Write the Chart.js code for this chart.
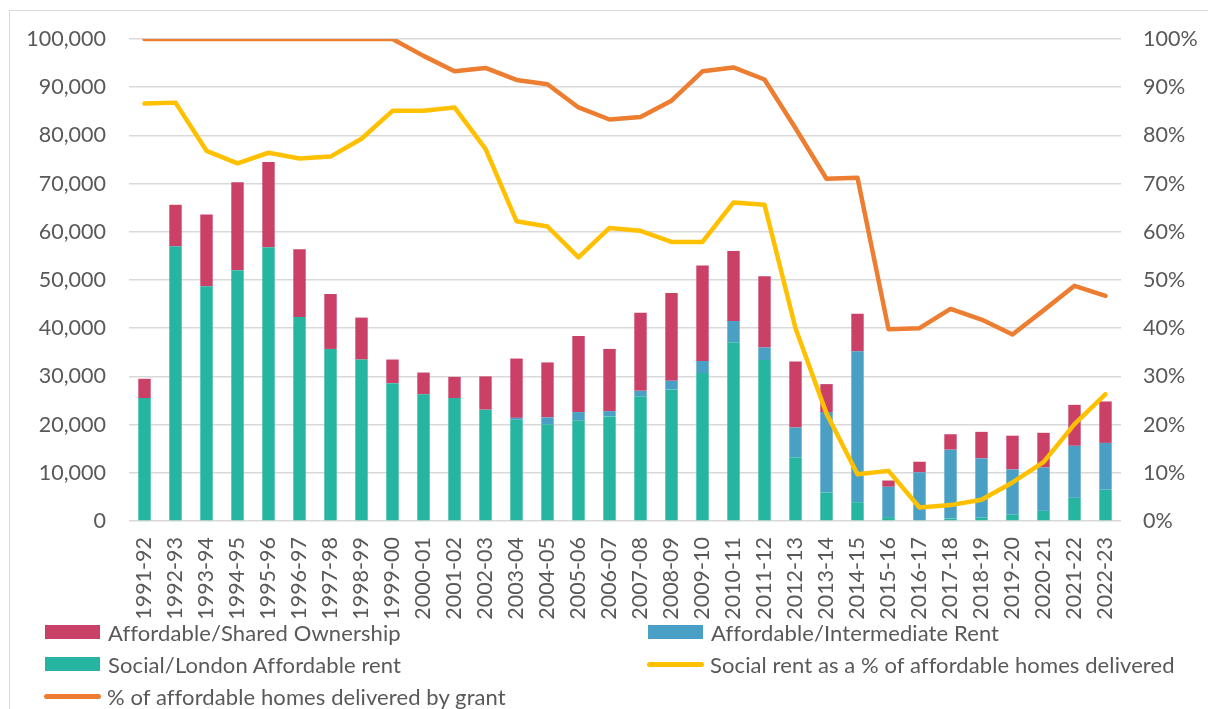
<!DOCTYPE html>
<html>
<head>
<meta charset="utf-8">
<script src="https://cdn.jsdelivr.net/npm/chart.js@4"></script>
<style>
    html, body { margin: 0; padding: 0; background: #fff; overflow: hidden; }
    body { width: 1208px; height: 709px; position: relative; font-family: Lato, "Open Sans", sans-serif; }
    .frame { position: absolute; left: 9px; top: 10px; width: 1300px; height: 800px; border: 1px solid #d9d9d9; box-sizing: border-box; }
    #wrap { position: absolute; left: 0; top: 0; width: 1208px; height: 620px; }
    .legend { position: absolute; left: 0; top: 0; width: 1208px; height: 709px; pointer-events: none; }
    .item { position: absolute; display: flex; align-items: center; font-size: 22px; letter-spacing: 0.1px; color: #595959; white-space: nowrap; }
    .box { width: 55px; height: 14px; margin-right: 8px; }
    .ln { width: 57px; height: 5px; border-radius: 3px; margin-right: 6px; }
</style>
</head>
<body>
<div class="frame"></div>
<div id="wrap"><canvas id="chart"></canvas></div>
<div class="legend" id="legend"></div>
<script>
const years = ['1991-92', '1992-93', '1993-94', '1994-95', '1995-96', '1996-97', '1997-98', '1998-99',
    '1999-00', '2000-01', '2001-02', '2002-03', '2003-04', '2004-05', '2005-06', '2006-07',
    '2007-08', '2008-09', '2009-10', '2010-11', '2011-12', '2012-13', '2013-14', '2014-15',
    '2015-16', '2016-17', '2017-18', '2018-19', '2019-20', '2020-21', '2021-22', '2022-23'];

// homes delivered
const socialRent = [25500, 57000, 48700, 52000, 56800, 42300, 35700, 33500, 28600, 26300, 25500, 23100,
    21000, 20000, 20900, 21700, 25900, 27300, 30700, 37100, 33400, 13200, 5900, 3900,
    800, 200, 500, 700, 1300, 2100, 4800, 6500];
const intermediateRent = [0, 0, 0, 0, 0, 0, 0, 0, 0, 0, 0, 0,
    400, 1500, 1700, 1100, 1100, 1800, 2500, 4400, 2600, 6200, 16700, 31300,
    6300, 9900, 14300, 12300, 9400, 9000, 10800, 9700];
const sharedOwnership = [4000, 8600, 14900, 18300, 17700, 14100, 11400, 8700, 4900, 4500, 4400, 6900,
    12300, 11400, 15800, 12900, 16200, 18200, 19800, 14500, 14800, 13700, 5800, 7800,
    1300, 2200, 3200, 5500, 7000, 7200, 8500, 8600];

// percentages (right axis)
const grantPct = [100, 100, 100, 100, 100, 100, 100, 100, 100, 96.5, 93.3, 94.0,
    91.5, 90.6, 85.8, 83.3, 83.8, 87.2, 93.3, 94.1, 91.6, 81.5, 71.0, 71.2,
    39.8, 40.0, 44.0, 41.8, 38.7, 43.7, 48.8, 46.7];
const socialPct = [86.6, 86.8, 76.8, 74.2, 76.4, 75.2, 75.6, 79.3, 85.1, 85.1, 85.8, 77.2,
    62.2, 61.1, 54.7, 60.8, 60.2, 57.9, 57.9, 66.1, 65.6, 40.0, 22.3, 9.7,
    10.4, 2.8, 3.3, 4.4, 8.0, 12.2, 20.1, 26.3];

const leftTicks = [0, 10000, 20000, 30000, 40000, 50000, 60000, 70000, 80000, 90000, 100000];

const COL = {
    shared: '#CB4067',
    inter: '#4AA0C4',
    social: '#26B5A0',
    socialLine: '#FFC000',
    grant: '#ED7D31',
    text: '#595959',
    grid: '#d9d9d9'
};

const legendItems = [
    { label: 'Affordable/Shared Ownership', color: COL.shared, type: 'box', x: 45, y: 632 },
    { label: 'Affordable/Intermediate Rent', color: COL.inter, type: 'box', x: 648, y: 632 },
    { label: 'Social/London Affordable rent', color: COL.social, type: 'box', x: 45, y: 664 },
    { label: 'Social rent as a % of affordable homes delivered', color: COL.socialLine, type: 'line', x: 647, y: 664 },
    { label: '% of affordable homes delivered by grant', color: COL.grant, type: 'line', x: 44, y: 696 }
];

function buildLegend() {
    const el = document.getElementById('legend');
    legendItems.forEach(it => {
        const d = document.createElement('div');
        d.className = 'item';
        d.style.left = it.x + 'px';
        d.style.top = (it.y - 14) + 'px';
        d.style.height = '28px';
        d.innerHTML = `<span class="${it.type === 'box' ? 'box' : 'ln'}" style="background:${it.color}"></span><span>${it.label}</span>`;
        el.appendChild(d);
    });
}

function initChart() {
    const ctx = document.getElementById('chart').getContext('2d');
    const font = { family: 'Lato, "Open Sans", sans-serif', size: 21.5 };

    new Chart(ctx, {
        type: 'bar',
        data: {
            labels: years,
            datasets: [
                { type: 'line', label: '% of affordable homes delivered by grant', data: grantPct, yAxisID: 'y1',
                  borderColor: COL.grant, borderWidth: 4.5, pointRadius: 0, tension: 0,
                  borderJoinStyle: 'round', borderCapStyle: 'round', order: 0 },
                { type: 'line', label: 'Social rent as a % of affordable homes delivered', data: socialPct, yAxisID: 'y1',
                  borderColor: COL.socialLine, borderWidth: 4.5, pointRadius: 0, tension: 0,
                  borderJoinStyle: 'round', borderCapStyle: 'round', order: 0 },
                { label: 'Social/London Affordable rent', data: socialRent, backgroundColor: COL.social, order: 1, stack: 's' },
                { label: 'Affordable/Intermediate Rent', data: intermediateRent, backgroundColor: COL.inter, order: 1, stack: 's' },
                { label: 'Affordable/Shared Ownership', data: sharedOwnership, backgroundColor: COL.shared, order: 1, stack: 's' }
            ]
        },
        options: {
            responsive: true,
            maintainAspectRatio: false,
            animation: false,
            datasets: { bar: { categoryPercentage: 1, barPercentage: 0.4 } },
            layout: { padding: { left: 0, right: 0, top: 39, bottom: 0 } },
            plugins: { legend: { display: false }, tooltip: { enabled: false } },
            scales: {
                x: {
                    stacked: true,
                    grid: { display: false, drawTicks: false },
                    border: { display: false },
                    ticks: { color: COL.text, font: font, autoSkip: false, minRotation: 90, maxRotation: 90, padding: 16 },
                    afterFit: function(scale) { scale.height = 99; }
                },
                y: {
                    stacked: true,
                    min: 0, max: 100000,
                    afterBuildTicks: function(scale) { scale.ticks = leftTicks.map(v => ({ value: v })); },
                    grid: { color: COL.grid, lineWidth: 1.5, drawTicks: false },
                    border: { display: false },
                    ticks: { color: COL.text, font: font, padding: 23,
                        callback: function(value) { return value.toLocaleString('en-GB'); } },
                    afterFit: function(scale) { scale.width = 129; }
                },
                y1: {
                    position: 'right',
                    min: 0, max: 100,
                    grid: { display: false, drawTicks: false },
                    border: { display: false },
                    ticks: { color: COL.text, font: font, padding: 22, stepSize: 10,
                        callback: function(value) { return value + '%'; } },
                    afterFit: function(scale) { scale.width = 87; }
                }
            }
        }
    });
}

buildLegend();
initChart();
</script>
</body>
</html>
